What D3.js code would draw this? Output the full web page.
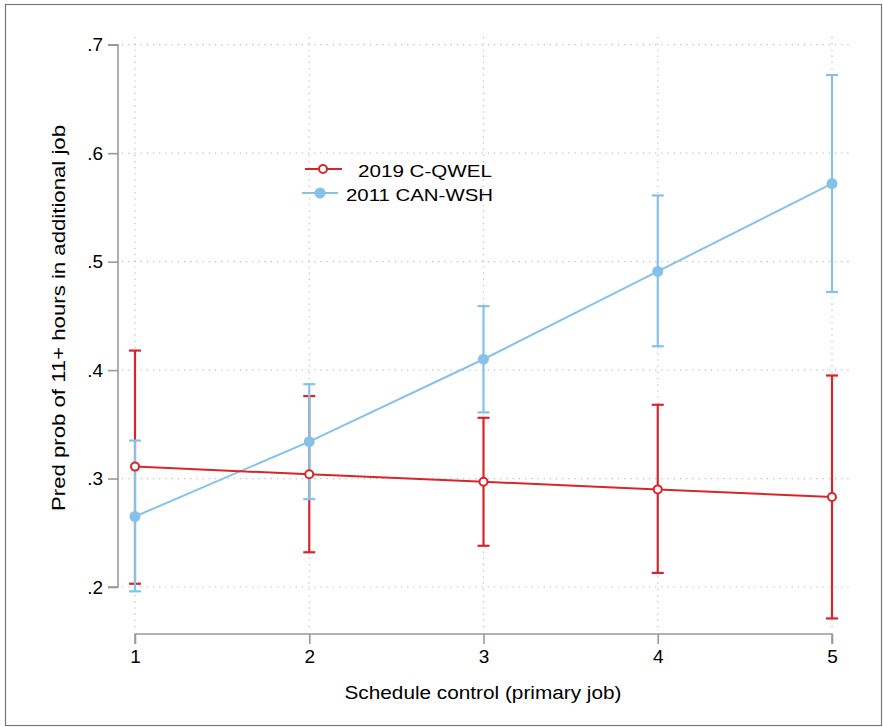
<!DOCTYPE html>
<html><head><meta charset="utf-8">
<script src="https://cdn.jsdelivr.net/npm/d3@7"></script>
<style>body{margin:0;background:#fff;} svg{display:block;font-family:"Liberation Sans",Arial,Helvetica,sans-serif;}</style>
</head><body>
<svg id="chart" width="883" height="727"></svg>
<script>
const xCategories = [1, 2, 3, 4, 5];
const seriesNames = ["2019 C-QWEL", "2011 CAN-WSH"];
const qwelEst = [0.311, 0.304, 0.297, 0.290, 0.283];
const qwelLo  = [0.203, 0.232, 0.238, 0.213, 0.171];
const qwelHi  = [0.418, 0.376, 0.356, 0.368, 0.395];
const canEst  = [0.265, 0.334, 0.410, 0.491, 0.572];
const canLo   = [0.196, 0.281, 0.361, 0.422, 0.472];
const canHi   = [0.335, 0.387, 0.459, 0.561, 0.672];
const yTicks = [0.2, 0.3, 0.4, 0.5, 0.6, 0.7];
const yTickLabels = [".2", ".3", ".4", ".5", ".6", ".7"];
const xTickLabels = ["1", "2", "3", "4", "5"];
const xTitle = "Schedule control (primary job)";
const yTitle = "Pred prob of 11+ hours in additional job";

const RED = "#d7262b", BLUE = "#86c1ea";
const svg = d3.select("#chart");

// outer frame
svg.append("rect").attr("x",5.5).attr("y",4.5).attr("width",876).attr("height",721)
  .attr("fill","none").attr("stroke","#777").attr("stroke-width",1.2);

const x = d3.scaleLinear().domain([1,5]).range([135,832]);
const y = d3.scaleLinear().domain([0.2,0.7]).range([587,44.7]);

// grid
const grid = svg.append("g");
yTicks.forEach(t => {
  grid.append("line").attr("x1",122).attr("x2",849).attr("y1",y(t)).attr("y2",y(t))
    .attr("stroke","#bbb").attr("stroke-width",1.2).attr("stroke-dasharray","1.2,5");
});
xCategories.forEach(c => {
  grid.append("line").attr("x1",x(c)).attr("x2",x(c)).attr("y1",37).attr("y2",630)
    .attr("stroke","#bbb").attr("stroke-width",1.2).attr("stroke-dasharray","1.2,5");
});

// y axis
const yAxis = d3.axisLeft(y).tickValues(yTicks).tickFormat((d,i)=>yTickLabels[i]).tickSize(10).tickPadding(5);
const gy = svg.append("g").attr("transform","translate(118,0)").call(yAxis);
gy.select(".domain").attr("stroke","#999").attr("stroke-width",1.6).attr("d",`M-10,${y(0.7)}H0V${y(0.2)}H-10`);
gy.selectAll(".tick line").attr("stroke","#999").attr("stroke-width",1.6);
gy.selectAll(".tick text").attr("font-size",19).attr("fill","#000").style("font-family","Liberation Sans, Arial, sans-serif");

// x axis
const xAxis = d3.axisBottom(x).tickValues(xCategories).tickFormat((d,i)=>xTickLabels[i]).tickSize(10).tickPadding(6);
const gx = svg.append("g").attr("transform","translate(0,634)").call(xAxis);
gx.select(".domain").attr("stroke","#999").attr("stroke-width",1.6).attr("d",`M${x(1)},10V0H${x(5)}V10`);
gx.selectAll(".tick line").attr("stroke","#999").attr("stroke-width",1.6);
gx.selectAll(".tick text").attr("font-size",19).attr("fill","#000").style("font-family","Liberation Sans, Arial, sans-serif");

// titles
svg.append("text").attr("x",483).attr("y",699).attr("text-anchor","middle").attr("font-size",18)
  .attr("textLength",277).attr("lengthAdjust","spacingAndGlyphs").text(xTitle);
svg.append("text").attr("transform","translate(65,318) rotate(-90)").attr("text-anchor","middle").attr("font-size",18)
  .attr("textLength",386).attr("lengthAdjust","spacingAndGlyphs").text(yTitle);

const series = [
  {name: seriesNames[0], est: qwelEst, lo: qwelLo, hi: qwelHi, color: RED, hollow: true},
  {name: seriesNames[1], est: canEst, lo: canLo, hi: canHi, color: BLUE, hollow: false}
];
const cap = 6;
// CIs
series.forEach(s => {
  const g = svg.append("g").attr("stroke",s.color).attr("stroke-width",2.2);
  xCategories.forEach((c,i) => {
    g.append("line").attr("x1",x(c)).attr("x2",x(c)).attr("y1",y(s.lo[i])).attr("y2",y(s.hi[i]));
    g.append("line").attr("x1",x(c)-cap).attr("x2",x(c)+cap).attr("y1",y(s.lo[i])).attr("y2",y(s.lo[i]));
    g.append("line").attr("x1",x(c)-cap).attr("x2",x(c)+cap).attr("y1",y(s.hi[i])).attr("y2",y(s.hi[i]));
  });
});
// lines
const line = d3.line().x((d,i)=>x(xCategories[i])).y(d=>y(d));
[series[1], series[0]].forEach(s => {
  svg.append("path").datum(s.est).attr("d",line).attr("fill","none").attr("stroke",s.color).attr("stroke-width",2);
});
// markers
series.forEach(s => {
  svg.append("g").selectAll("circle").data(s.est).join("circle")
    .attr("cx",(d,i)=>x(xCategories[i])).attr("cy",d=>y(d))
    .attr("r", s.hollow ? 4 : 5.5)
    .attr("fill", s.hollow ? "#fff" : s.color)
    .attr("stroke", s.hollow ? s.color : "none").attr("stroke-width",2);
});

// legend
const leg = svg.append("g");
leg.append("line").attr("x1",305).attr("x2",342).attr("y1",169).attr("y2",169).attr("stroke",RED).attr("stroke-width",2);
leg.append("circle").attr("cx",323).attr("cy",169).attr("r",4).attr("fill","#fff").attr("stroke",RED).attr("stroke-width",2);
leg.append("text").attr("x",358).attr("y",176.5).attr("font-size",17)
  .attr("textLength",134).attr("lengthAdjust","spacingAndGlyphs").text(seriesNames[0]);
leg.append("line").attr("x1",302).attr("x2",338).attr("y1",193).attr("y2",193).attr("stroke",BLUE).attr("stroke-width",2);
leg.append("circle").attr("cx",320).attr("cy",193).attr("r",5.5).attr("fill",BLUE);
leg.append("text").attr("x",346).attr("y",200.5).attr("font-size",17)
  .attr("textLength",147).attr("lengthAdjust","spacingAndGlyphs").text(seriesNames[1]);
</script>
</body></html>
